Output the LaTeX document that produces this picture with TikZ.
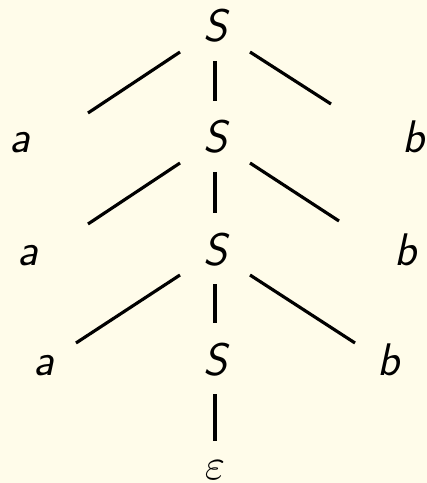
\documentclass[tikz,border=0pt]{standalone}
\usepackage{amsmath}
\usepackage{graphicx}
\usepackage{xcolor}
\usepackage{tikz}
\definecolor{bgcol}{RGB}{255,252,234}

\begin{document}
\begin{tikzpicture}[x=0.03cm,y=-0.03cm,
      sym/.style={anchor=base,inner sep=0pt,font=\fontsize{39}{46}\selectfont\sffamily\itshape},
      edge/.style={line width=2.7pt}]
    \fill[bgcol] (0,0) rectangle (427,483);
    % spine of S nodes
    \foreach \i/\y in {0/42,1/153,2/265,3/375} {
      \node[sym] (S\i) at (215,\y) {S};
    }
    \node[sym,font=\fontsize{10}{12}\selectfont] (eps) at (215,479) {\scalebox{3.7}{$\varepsilon$}};
    % leaves
    \foreach \i/\xa/\xb/\y in {1/20/414/153,2/28/406/265,3/44/389/375} {
      \node[sym] (a\i) at (\xa,\y) {a};
      \node[sym] (b\i) at (\xb,\y) {b};
    }
    % edges
    \foreach \p/\c/\lx/\ly/\rx/\ry in {0/1/68/-40/-83/-49,1/2/60/-41/-67/-44,2/3/32/-32/-34/-32} {
      \draw[edge] ([shift={(-35,10)}]S\p.base) -- ([shift={(\lx,\ly)}]a\c.base);
      \draw[edge] ([shift={(0,19)}]S\p.base) -- ([shift={(0,-52)}]S\c.base);
      \draw[edge] ([shift={(35,10)}]S\p.base) -- ([shift={(\rx,\ry)}]b\c.base);
    }
    \draw[edge] ([shift={(0,19)}]S3.base) -- ([shift={(0,-38)}]eps.base);
  \end{tikzpicture}
\end{document}
